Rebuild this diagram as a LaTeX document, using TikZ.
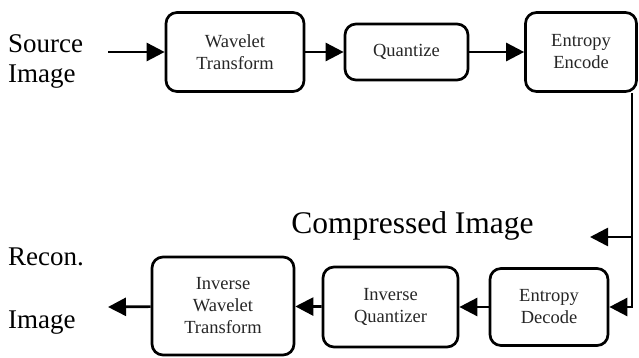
\documentclass[tikz,border=0pt]{standalone}
\usepackage{fontspec}
\setmainfont{Liberation Serif}
\usetikzlibrary{arrows.meta}
\begin{document}
\begin{tikzpicture}[x=1pt,y=-1pt,
 blk/.style={draw, line width=2.7pt, rounded corners=11pt, align=center, font=\fontsize{18.5}{22}\selectfont, text=black!85, inner sep=0pt},
 arr/.style={line width=2.7pt, -{Triangle[length=18pt,width=18pt]}},
 lbl/.style={font=\fontsize{27}{30}\selectfont, inner sep=0pt, anchor=base west}]
\useasboundingbox (0,0) rectangle (639,358);
% top row
\node[blk, minimum width=138pt, minimum height=79pt] (wt) at (235,52) {Wavelet\\Transform};
\node[blk, minimum width=123pt, minimum height=56pt] (q) at (406.5,52) {Quantize};
\node[blk, minimum width=111pt, minimum height=79pt] (ee) at (581,52) {Entropy\\Encode};
% bottom row
\node[blk, minimum width=118pt, minimum height=77pt] (ed) at (549,307) {Entropy\\Decode};
\node[blk, minimum width=135pt, minimum height=80pt] (iq) at (390.5,307) {Inverse\\Quantizer};
\node[blk, minimum width=142pt, minimum height=98pt] (iwt) at (223,306) {Inverse\\Wavelet\\Transform};
% labels
\node[lbl] (src1) at (8,53) {Source};
\node[lbl] (src2) at (8,83) {Image};
\node[lbl] (rec1) at (8,265) {Recon.};
\node[lbl] (rec2) at (8,328) {Image};
\node[font=\fontsize{31.5}{36}\selectfont, inner sep=0pt, anchor=base] (cmp) at (412.5,233) {Compressed Image};
% coordinates
\coordinate (in) at (108,52);
\coordinate (tap) at (632,237);
\coordinate (cmpend) at (590,237);
\coordinate (out) at (108,307);
% connectors
\draw[arr] (in) -- (wt);
\draw[arr] (wt) -- (q);
\draw[arr] (q) -- (ee);
\draw[arr] (ee.south -| tap) |- (ed.east);
\draw[arr] (tap) -- (cmpend);
\draw[arr] (ed) -- (iq);
\draw[arr] (iq) -- (iwt);
\draw[arr] (iwt) -- (out);
\end{tikzpicture}
\end{document}
